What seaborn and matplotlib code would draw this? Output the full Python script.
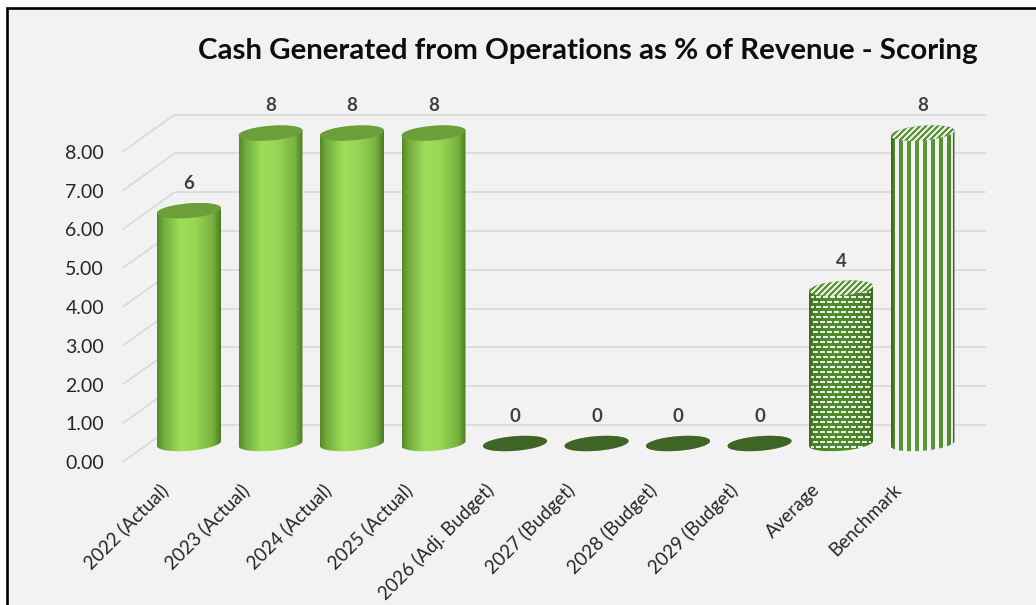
import numpy as np
import pandas as pd
import matplotlib
matplotlib.use("Agg")
import matplotlib.pyplot as plt
from matplotlib.patches import Polygon, Rectangle
from matplotlib.colors import LinearSegmentedColormap, to_rgb
from matplotlib.transforms import ScaledTranslation
import seaborn as sns

# ---- data -------------------------------------------------------------
categories = ["2022 (Actual)", "2023 (Actual)", "2024 (Actual)", "2025 (Actual)",
              "2026 (Adj. Budget)", "2027 (Budget)", "2028 (Budget)", "2029 (Budget)",
              "Average", "Benchmark"]
scores = [6, 8, 8, 8, 0, 0, 0, 0, 4, 8]
fill_styles = ["solid"] * 8 + ["dots", "stripes"]
y_ticks = [0, 1, 2, 3, 4, 5, 6, 7, 8]
y_tick_labels = [f"{t:.2f}" for t in y_ticks]
title = "Cash Generated from Operations as % of Revenue - Scoring"

# ---- style ------------------------------------------------------------
sns.set_style("white")
plt.rcParams["font.family"] = ["Lato", "DejaVu Sans"]

W, H, DPI = 1036, 605, 100
fig = plt.figure(figsize=(W / DPI, H / DPI), dpi=DPI, facecolor="white")

# chart area with its frame (right and bottom edges run off the canvas)
fig.add_artist(Rectangle((7 / W, -0.1), 1.2, (H - 8) / H + 0.1,
                         transform=fig.transFigure, facecolor="#f2f2f2",
                         edgecolor="black", linewidth=1.9, zorder=0))

# pixel geometry of the pseudo-3D plot box
X0, DX = 189.0, 81.5      # first category centre, category pitch
Y0, DY = 443.5, 38.8      # mid-depth floor row, pixels per unit
AX_L, AX_R, AX_T, AX_B = 112, 1000, 85, 470

ax = fig.add_axes([AX_L / W, 1 - AX_B / H, (AX_R - AX_L) / W, (AX_B - AX_T) / H])

df = pd.DataFrame({"category": categories, "score": scores})
palette = ["#8cc84b"] * len(categories)
sns.barplot(data=df, x="category", y="score", hue="category", palette=palette,
            width=0.785, legend=False, ax=ax, zorder=2, linewidth=0)

ax.set_xlim((AX_L - X0) / DX, (AX_R - X0) / DX)
ax.set_ylim((Y0 - AX_B) / DY, (Y0 - AX_T) / DY)
ax.patch.set_alpha(0)
for sp in ax.spines.values():
    sp.set_visible(False)
ax.set_xlabel("")
ax.set_ylabel("")

# depth of the box (half depth, front/back relative to the bar plane)
DEPTH_X = 26 / DX
DEPTH_Y = 18.6 / DY
x_front = (122.7 - X0) / DX
x_back = x_front + 2 * DEPTH_X
x_right = (986 - X0) / DX
grid_kw = dict(color="#d9d9d9", lw=1.2, zorder=0.5, solid_capstyle="butt")
for t in y_ticks:
    ax.plot([x_back, x_right], [t + DEPTH_Y] * 2, **grid_kw)
    ax.plot([x_front, x_back], [t - DEPTH_Y, t + DEPTH_Y], **grid_kw)

# axis labels
ax.set_yticks([t - DEPTH_Y for t in y_ticks], y_tick_labels)
ax.tick_params(axis="y", length=0, pad=8 * 72 / DPI, labelsize=14, labelcolor="#262626")
ax.set_xticks(range(len(categories)), categories)
ax.tick_params(axis="x", length=0, pad=17 * 72 / DPI, labelsize=13.5, labelcolor="#262626")
shift = ScaledTranslation(-24 / DPI, 0, fig.dpi_scale_trans)
for lbl in ax.get_xticklabels():
    lbl.set_rotation(45)
    lbl.set_ha("right")
    lbl.set_va("center")
    lbl.set_rotation_mode("anchor")
    lbl.set_transform(lbl.get_transform() + shift)

# ---- cylinder rendering -------------------------------------------------
ELL_B = 7.3 / DY                  # half height of the elliptical ends
SHEAR = (5.0 / 64.0) * DX / DY     # slight tilt of the ellipses
body_cmap = LinearSegmentedColormap.from_list(
    "body", [(0, "#568a29"), (0.1, "#72ac3b"), (0.36, "#9edd5a"),
             (0.6, "#98d654"), (0.88, "#77b340"), (1, "#4f7e24")])
prof_u = [0, 0.06, 0.35, 0.6, 0.9, 1]
prof_f = [0.6, 0.82, 1.0, 0.96, 0.82, 0.62]


def ellipse_pts(cx, cy, a, t):
    return np.column_stack([cx + a * np.cos(t),
                            cy + ELL_B * np.sin(t) + SHEAR * a * np.cos(t)])


def shade(w):
    u = np.linspace(0, 1, w)
    return np.interp(u, prof_u, prof_f)


def body_image(style, w, h):
    cols = np.arange(w)[None, :]
    rows = np.arange(h)[:, None]
    f = shade(w)[None, :, None]
    if style == "solid":
        img = body_cmap(np.linspace(0, 1, w))[:, :3]
        return np.repeat(img[None, :, :], h, axis=0)
    if style == "stripes":
        green = np.array(to_rgb("#5c9c37"))
        white = np.array(to_rgb("#f7f7f5"))
        mask = ((cols % 8) < 4) & np.ones((h, 1), bool)
    else:
        green = np.array(to_rgb("#4f8d2c"))
        white = np.array(to_rgb("#f0f4ec"))
        shift_r = 3 * ((rows // 5) % 2)
        mask = ~(((rows % 5) < 2) & (((cols + shift_r) % 7) < 5))
    g = green[None, None, :] * (0.45 + 0.55 * f)
    wt = white[None, None, :] * (0.8 + 0.2 * f)
    img = np.where(mask[:, :, None], g, wt)
    # darker rims at the silhouette edges
    edge = np.zeros((1, w, 1))
    edge[:, :2] = 1
    edge[:, -2:] = 1
    img = img * (1 - edge) + np.array(to_rgb("#3f6b25"))[None, None, :] * edge
    return np.clip(img, 0, 1)


def cap_image(w, h):
    cols = np.arange(w)[None, :]
    rows = np.arange(h)[:, None]
    mask = ((cols + rows) % 6) < 3
    green = np.array(to_rgb("#5a9436"))
    light = np.array(to_rgb("#e6eedf"))
    return np.where(mask[:, :, None], green, light)


bars = sorted(ax.patches, key=lambda p: p.get_x())
for bar, val, style in zip(bars, scores, fill_styles):
    a = bar.get_width() / 2
    cx = bar.get_x() + a
    top = bar.get_height()
    lower = ellipse_pts(cx, 0.0, a, np.linspace(np.pi, 2 * np.pi, 60))
    upper = ellipse_pts(cx, top, a, np.linspace(0, np.pi, 60))
    outline = Polygon(np.vstack([lower, upper]), closed=True,
                      transform=ax.transData, facecolor="none", edgecolor="none")
    bar.set_clip_path(outline)

    pad = ELL_B + abs(SHEAR) * a + 0.05
    y_lo, y_hi = -pad, top + pad
    w_px = max(int(round(2 * a * DX)), 2)
    h_px = max(int(round((y_hi - y_lo) * DY)), 2)
    im = ax.imshow(body_image(style, w_px, h_px), extent=[cx - a, cx + a, y_lo, y_hi],
                   aspect="auto", interpolation="bilinear", zorder=2.1)
    im.set_clip_path(outline)

    cap_pts = ellipse_pts(cx, top, a, np.linspace(0, 2 * np.pi, 120))
    if style == "solid":
        cap_color = "#6c9e39" if val > 0 else "#3e6426"
        ax.add_patch(Polygon(cap_pts, closed=True, facecolor=cap_color,
                             edgecolor="none", zorder=2.2))
    else:
        cap = Polygon(cap_pts, closed=True, transform=ax.transData,
                      facecolor="none", edgecolor="none")
        cpad = ELL_B + abs(SHEAR) * a
        ch = max(int(round(2 * cpad * DY)), 2)
        cim = ax.imshow(cap_image(w_px, ch), extent=[cx - a, cx + a, top - cpad, top + cpad],
                        aspect="auto", interpolation="bilinear", zorder=2.2)
        cim.set_clip_path(cap)

ax.set_xlim((AX_L - X0) / DX, (AX_R - X0) / DX)
ax.set_ylim((Y0 - AX_B) / DY, (Y0 - AX_T) / DY)

# value labels
for cont, val in zip(ax.containers, scores):
    ax.bar_label(cont, labels=[f"{val:g}"], padding=13.5, fontsize=13.5,
                 fontweight="bold", color="#404040", zorder=3)

# title, scaled to its measured span
ttl = fig.text(587.5 / W, 1 - 51 / H, title, ha="center", va="center",
               fontsize=20, fontweight="bold", color="#0d0d0d")
renderer = fig.canvas.get_renderer()
width_px = ttl.get_window_extent(renderer).width
ttl.set_fontsize(20 * 781 / width_px)

fig.savefig("out.png", dpi=DPI, facecolor=fig.get_facecolor())
